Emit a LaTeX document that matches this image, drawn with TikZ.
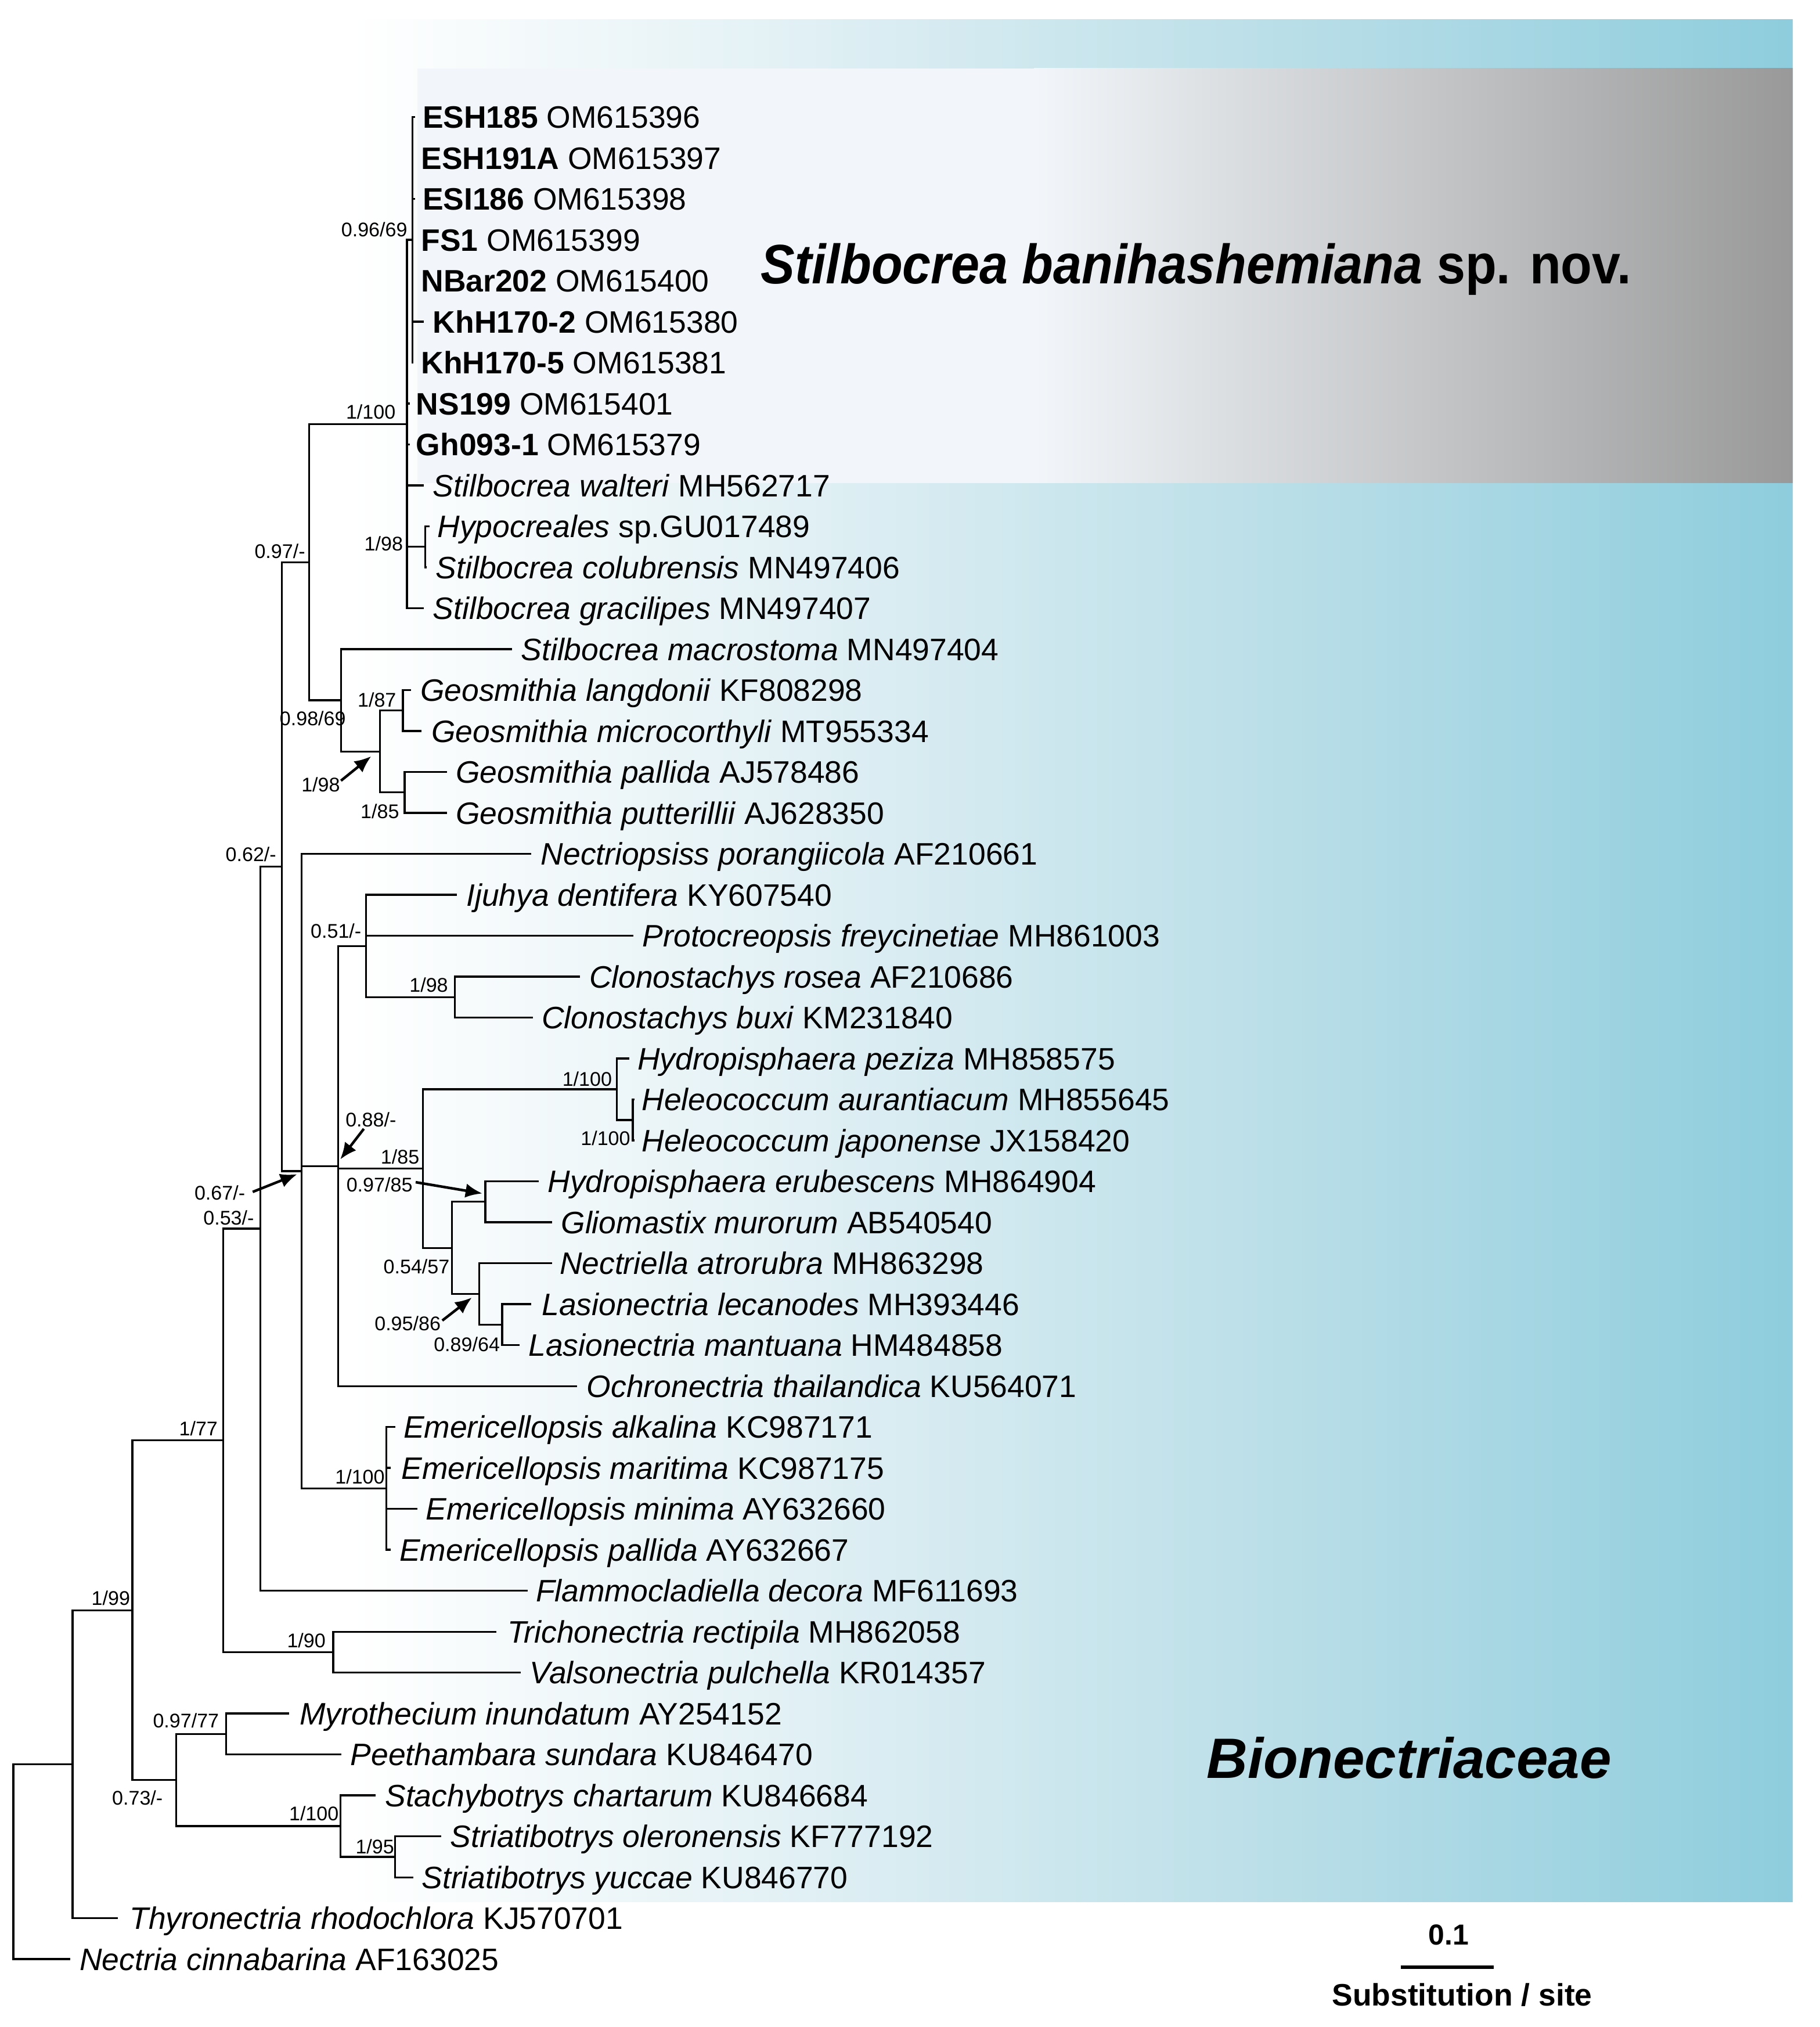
\documentclass[tikz,border=0pt]{standalone}
\usepackage{fontspec}
\setmainfont{Liberation Sans}
\usepackage{graphicx}
\usetikzlibrary{arrows.meta}
\definecolor{blA}{RGB}{227,241,245}
\definecolor{blB}{RGB}{190,224,233}
\definecolor{blC}{RGB}{142,205,221}
\definecolor{grA}{RGB}{242,246,250}
\definecolor{grB}{RGB}{153,153,153}
\newcommand{\leafnode}[5]{\coordinate (#1) at (#2,#3); \node[lab] (#1-t) at (#4,#3+8.6) {#5};}
\newcommand{\supnode}[4]{\node[sup] (#1) at (#2,#3+5.5) {#4};}
\begin{document}
\begin{tikzpicture}[x=1pt,y=-1pt,
  br/.style={line width=1.5pt},
  lab/.style={anchor=base west,inner sep=0pt,font=\fontsize{24}{28}\selectfont},
  sup/.style={anchor=base east,inner sep=0pt,font=\fontsize{15.3}{18}\selectfont},
  arw/.style={line width=2pt,-{Latex[length=13pt,width=11pt]}}]
\useasboundingbox (0,0) rectangle (1408,1568);
% backgrounds
\shade[left color=white,right color=blA] (270,15) rectangle (600.5,1471);
\shade[left color=blA,right color=blB] (600,15) rectangle (950.5,1471);
\shade[left color=blB,right color=blC] (950,15) rectangle (1387,1471);
\fill[grA] (323,53) rectangle (800.5,373.5);
\shade[left color=grA,right color=grB] (800,53) rectangle (1387,373.5);
% internal nodes
\coordinate (AF) at (10.4,1440.1);
\coordinate (AE) at (56.1,1364.7);
\coordinate (Z) at (102.4,1245.6);
\coordinate (W) at (172.7,1114.2);
\coordinate (V) at (201.3,950.45);
\coordinate (A) at (218,670.4);
\coordinate (K) at (239.2,434.9);
\coordinate (L) at (314.9,328);
\coordinate (M) at (319,185.5);
\coordinate (N) at (329.1,423);
\coordinate (G) at (263.8,541.75);
\coordinate (H) at (294.1,581.3);
\coordinate (I) at (311.7,549.65);
\coordinate (J) at (313.1,613);
\coordinate (B) at (233.4,905.9);
\coordinate (C) at (261.5,902);
\coordinate (E) at (283.3,731.8);
\coordinate (F) at (352,771.35);
\coordinate (D) at (327.3,903.95);
\coordinate (P) at (477.2,842.6);
\coordinate (Q) at (489.6,866.35);
\coordinate (S) at (349.8,965.3);
\coordinate (R) at (375.5,929.65);
\coordinate (T) at (370.9,1000.9);
\coordinate (U) at (388.5,1024.65);
\coordinate (X) at (298.8,1151.3);
\coordinate (Y) at (257.8,1278);
\coordinate (AA) at (136.2,1377);
\coordinate (AB) at (174.9,1341.35);
\coordinate (AC) at (263.5,1412.6);
\coordinate (AD) at (305.7,1436.35);
% leaves
\leafnode{esh}{321.1}{90.5}{326.8}{\textbf{ESH185} OM615396}
\leafnode{eshb}{320}{122.2}{325.7}{\textbf{ESH191A} OM615397}
\leafnode{esi}{321}{153.8}{326.8}{\textbf{ESI186} OM615398}
\leafnode{fs}{320}{185.5}{325.7}{\textbf{FS1} OM615399}
\leafnode{nbar}{320}{217.2}{325.7}{\textbf{NBar202} OM615400}
\leafnode{khha}{328}{248.8}{334.8}{\textbf{KhH170-2} OM615380}
\leafnode{khhb}{320}{280.5}{325.7}{\textbf{KhH170-5} OM615381}
\leafnode{ns}{317}{312.2}{321.8}{\textbf{NS199} OM615401}
\leafnode{gh}{317}{343.8}{321.8}{\textbf{Gh093-1} OM615379}
\leafnode{walt}{328}{375.5}{334.8}{\textit{Stilbocrea walteri} MH562717}
\leafnode{hypo}{332.5}{407.2}{338.3}{\textit{Hypocreales} sp.GU017489}
\leafnode{colub}{330.2}{438.8}{337.1}{\textit{Stilbocrea colubrensis} MN497406}
\leafnode{graci}{328}{470.5}{334.8}{\textit{Stilbocrea gracilipes} MN497407}
\leafnode{macro}{396.1}{502.2}{403}{\textit{Stilbocrea macrostoma} MN497404}
\leafnode{langd}{318.2}{533.8}{325}{\textit{Geosmithia langdonii} KF808298}
\leafnode{micro}{326.2}{565.5}{333.7}{\textit{Geosmithia microcorthyli} MT955334}
\leafnode{gpall}{345.7}{597.2}{352.5}{\textit{Geosmithia pallida} AJ578486}
\leafnode{putt}{345.7}{628.8}{352.5}{\textit{Geosmithia putterillii} AJ628350}
\leafnode{nops}{411}{660.5}{418.3}{\textit{Nectriopsiss porangiicola} AF210661}
\leafnode{ijuh}{353.7}{692.2}{360.6}{\textit{Ijuhya dentifera} KY607540}
\leafnode{proto}{490.2}{723.8}{497}{\textit{Protocreopsis freycinetiae} MH861003}
\leafnode{rosea}{448.8}{755.5}{455.7}{\textit{Clonostachys rosea} AF210686}
\leafnode{buxi}{412.1}{787.2}{419}{\textit{Clonostachys buxi} KM231840}
\leafnode{pezi}{486.8}{818.8}{493}{\textit{Hydropisphaera peziza} MH858575}
\leafnode{aur}{491}{850.5}{496.4}{\textit{Heleococcum aurantiacum} MH855645}
\leafnode{jap}{491}{882.2}{496.4}{\textit{Heleococcum japonense} JX158420}
\leafnode{erub}{416.7}{913.8}{423.6}{\textit{Hydropisphaera erubescens} MH864904}
\leafnode{glio}{427}{945.5}{433.9}{\textit{Gliomastix murorum} AB540540}
\leafnode{nella}{427}{977.2}{432.8}{\textit{Nectriella atrorubra} MH863298}
\leafnode{lecan}{411}{1008.8}{419}{\textit{Lasionectria lecanodes} MH393446}
\leafnode{mantu}{401.8}{1040.5}{408.7}{\textit{Lasionectria mantuana} HM484858}
\leafnode{ochro}{446.5}{1072.2}{453.8}{\textit{Ochronectria thailandica} KU564071}
\leafnode{alka}{305.7}{1103.8}{312}{\textit{Emericellopsis alkalina} KC987171}
\leafnode{mari}{302.5}{1135.5}{310.4}{\textit{Emericellopsis maritima} KC987175}
\leafnode{mini}{323}{1167.2}{329.3}{\textit{Emericellopsis minima} AY632660}
\leafnode{epall}{302.5}{1198.8}{308.9}{\textit{Emericellopsis pallida} AY632667}
\leafnode{flam}{408.1}{1230.5}{414.4}{\textit{Flammocladiella decora} MF611693}
\leafnode{trich}{383.9}{1262.2}{392.4}{\textit{Trichonectria rectipila} MH862058}
\leafnode{valso}{402.8}{1293.8}{409.7}{\textit{Valsonectria pulchella} KR014357}
\leafnode{myro}{223.8}{1325.5}{231.6}{\textit{Myrothecium inundatum} AY254152}
\leafnode{peeth}{264.1}{1357.2}{271}{\textit{Peethambara sundara} KU846470}
\leafnode{stach}{290.6}{1388.8}{297.8}{\textit{Stachybotrys chartarum} KU846684}
\leafnode{oler}{341.3}{1420.5}{348.3}{\textit{Striatibotrys oleronensis} KF777192}
\leafnode{yucc}{319.9}{1452.2}{326.2}{\textit{Striatibotrys yuccae} KU846770}
\leafnode{thyro}{91.4}{1483.8}{100.2}{\textit{Thyronectria rhodochlora} KJ570701}
\leafnode{nect}{54.2}{1515.5}{61.5}{\textit{Nectria cinnabarina} AF163025}
% branches
\foreach \p/\c in {AF/AE,AF/nect,AE/Z,AE/thyro,Z/W,Z/AA,W/V,W/Y,V/A,V/flam,A/K,A/B,
  K/L,K/G,L/M,L/ns,L/gh,L/walt,L/N,L/graci,M/esh,M/eshb,M/esi,M/fs,M/nbar,M/khha,M/khhb,
  N/hypo,N/colub,G/macro,G/H,H/I,H/J,I/langd,I/micro,J/gpall,J/putt,
  B/nops,B/C,B/X,C/E,C/D,C/ochro,E/ijuh,E/proto,E/F,F/rosea,F/buxi,
  D/P,D/S,P/pezi,P/Q,Q/aur,Q/jap,S/R,S/T,R/erub,R/glio,T/nella,T/U,U/lecan,U/mantu,
  X/alka,X/mari,X/mini,X/epall,Y/trich,Y/valso,AA/AB,AA/AC,AB/myro,AB/peeth,
  AC/stach,AC/AD,AD/oler,AD/yucc}
  \draw[br] (\p) |- (\c);
% support values
\supnode{sM}{315.3}{177.7}{0.96/69}
\supnode{sL}{306.2}{318.4}{1/100}
\supnode{sN}{311.9}{420.5}{1/98}
\supnode{sK}{236.3}{426.3}{0.97/-}
\supnode{sG}{267.7}{555.5}{0.98/69}
\supnode{sI}{306.7}{541.5}{1/87}
\supnode{sH}{263.2}{607.1}{1/98}
\supnode{sJ}{309}{627.5}{1/85}
\supnode{sA}{213.9}{660.8}{0.62/-}
\supnode{sE}{279.7}{720}{0.51/-}
\supnode{sF}{346.8}{761.8}{1/98}
\supnode{sP}{473.6}{834.6}{1/100}
\supnode{sQ}{487.8}{880.3}{1/100}
\supnode{sC}{306.7}{866.1}{0.88/-}
\supnode{sD}{324.6}{894.7}{1/85}
\supnode{sR}{319.3}{916.2}{0.97/85}
\supnode{sB}{189.8}{922.7}{0.67/-}
\supnode{sV}{196.7}{942}{0.53/-}
\supnode{sS}{348}{979.6}{0.54/57}
\supnode{sT}{341.1}{1023.7}{0.95/86}
\supnode{sU}{386.9}{1039.8}{0.89/64}
\supnode{sW}{168.6}{1104.8}{1/77}
\supnode{sX}{297.8}{1142.3}{1/100}
\supnode{sZ}{100.8}{1236.1}{1/99}
\supnode{sY}{252.1}{1268.9}{1/90}
\supnode{sAB}{169.6}{1330.8}{0.97/77}
\supnode{sAA}{126.1}{1390.8}{0.73/-}
\supnode{sAC}{262.2}{1402.7}{1/100}
\supnode{sAD}{305.1}{1428.3}{1/95}
% arrows
\coordinate (a1s) at (263.8,603.9); \coordinate (a1e) at (287.2,585);
\coordinate (a2s) at (281.5,873.2); \coordinate (a2e) at (263.2,896.9);
\coordinate (a3s) at (321.6,914.5); \coordinate (a3e) at (373.2,923.2);
\coordinate (a4s) at (195.5,922); \coordinate (a4e) at (229.9,908.3);
\coordinate (a5s) at (342.2,1021.5); \coordinate (a5e) at (365.1,1003.7);
\draw[arw] (a1s) -- (a1e);
\draw[arw] (a2s) -- (a2e);
\draw[arw] (a3s) -- (a3e);
\draw[arw] (a4s) -- (a4e);
\draw[arw] (a5s) -- (a5e);
% big labels
\node[anchor=base west,inner sep=0pt,font=\fontsize{43}{50}\selectfont\bfseries] (sbn) at (588.3,219.5)
  {\scalebox{0.92}[1]{\textit{Stilbocrea banihashemiana} sp. nov.}};
\node[anchor=base west,inner sep=0pt,font=\fontsize{44}{50}\selectfont\bfseries\itshape] (bion) at (933.5,1375.7) {Bionectriaceae};
% scale bar
\coordinate (sbL) at (1083.6,1521.7); \coordinate (sbR) at (1155.8,1521.7);
\draw[line width=2.8pt] (sbL) -- (sbR);
\node[anchor=base,inner sep=0pt,font=\fontsize{22.4}{26}\selectfont\bfseries] (sbv) at (1120.8,1504.5) {0.1};
\node[anchor=base,inner sep=0pt,font=\fontsize{24}{28}\selectfont\bfseries] (sbt) at (1131.2,1551.5) {Substitution / site};
\end{tikzpicture}
\end{document}
